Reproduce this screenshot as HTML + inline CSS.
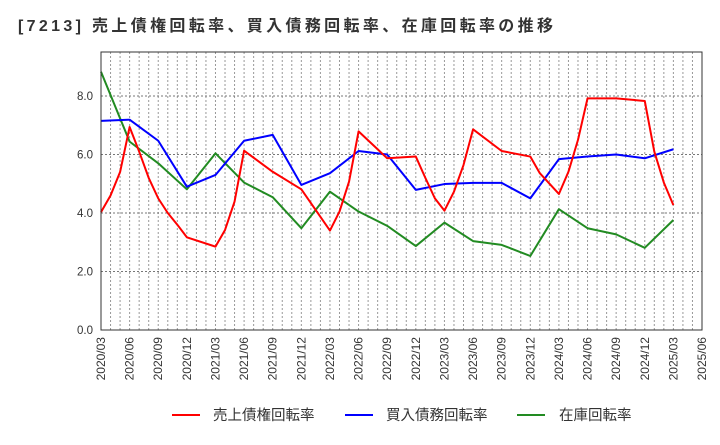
<!DOCTYPE html>
<html><head><meta charset="utf-8"><style>
body{margin:0;background:#fff;}
svg text{font-family:"Liberation Sans","Noto Sans CJK JP",sans-serif;}
</style></head><body>
<svg id="c" width="720" height="440" xmlns="http://www.w3.org/2000/svg">
<text x="18" y="31" font-size="16" font-weight="bold" fill="#333" textLength="535" lengthAdjust="spacing">[7213]  売上債権回転率、買入債務回転率、在庫回転率の推移</text>
<g id="grid"></g><g id="series"></g><g id="axes"></g>
<g>
<line x1="172" y1="415" x2="200" y2="415" stroke="#ff0000" stroke-width="2"/>
<text x="213" y="420" font-size="14.5" fill="#333">売上債権回転率</text>
<line x1="345" y1="415" x2="373" y2="415" stroke="#0000ff" stroke-width="2"/>
<text x="386" y="420" font-size="14.5" fill="#333">買入債務回転率</text>
<line x1="517" y1="415" x2="545" y2="415" stroke="#228b22" stroke-width="2"/>
<text x="559" y="420" font-size="14.5" fill="#333">在庫回転率</text>
</g>
</svg>
<script>
const xLabels=["2020/03","2020/06","2020/09","2020/12","2021/03","2021/06","2021/09","2021/12","2022/03","2022/06","2022/09","2022/12","2023/03","2023/06","2023/09","2023/12","2024/03","2024/06","2024/09","2024/12","2025/03","2025/06"];
const yTicks=[0,2,4,6,8];
const redMonths=[0,1,2,3,4,5,6,7,8,9,12,13,14,15,18,21,24,25,26,27,30,33,34,35,36,37,38,39,42,45,46,48,49,50,51,54,57,58,59,60];
const redVals=[4.03,4.6,5.4,6.94,6.1,5.2,4.5,4.0,3.6,3.17,2.85,3.42,4.39,6.13,5.41,4.81,3.40,4.05,5.07,6.79,5.87,5.93,5.2,4.5,4.08,4.73,5.64,6.86,6.12,5.93,5.36,4.65,5.41,6.50,7.92,7.92,7.83,6.1,5.04,4.27];
const blueMonths=[0,3,6,9,12,15,18,21,24,27,30,33,36,39,42,45,48,51,54,57,60];
const blueVals=[7.15,7.19,6.47,4.90,5.30,6.47,6.67,4.96,5.36,6.12,6.0,4.79,4.99,5.03,5.03,4.50,5.84,5.93,6.0,5.87,6.18];
const greenMonths=[0,3,6,9,12,15,18,21,24,27,30,33,36,39,42,45,48,51,54,57,60];
const greenVals=[8.83,6.44,5.70,4.81,6.04,5.04,4.54,3.48,4.73,4.05,3.56,2.87,3.67,3.04,2.91,2.53,4.13,3.48,3.27,2.81,3.76];
const X0=101,X1=702,Y0=330,YT=52;
const xs=m=>X0+(X1-X0)*m/63;
const ys=v=>Y0-29.25*v;
const NS="http://www.w3.org/2000/svg";
function mk(t,a,p){const e=document.createElementNS(NS,t);for(const k in a)e.setAttribute(k,a[k]);p.appendChild(e);return e;}
const grid=document.getElementById('grid'),axes=document.getElementById('axes'),ser=document.getElementById('series');
for(let m=1;m<63;m++){const l=mk('line',{x1:xs(m),x2:xs(m),y1:YT,y2:Y0,stroke:'#999','stroke-dasharray':'2,2','stroke-width':1},grid);

}
yTicks.forEach(v=>{if(v>0){const l=mk('line',{x1:X0,x2:X1,y1:ys(v),y2:ys(v),stroke:'#777','stroke-dasharray':'2,2','stroke-width':1},grid);

}
const t=mk('text',{x:X0-8,y:ys(v)+4,'text-anchor':'end','font-size':11.5,fill:'#333'},axes);t.textContent=v.toFixed(1);

});
const fr=mk('rect',{x:X0,y:YT,width:X1-X0,height:Y0-YT,fill:'none',stroke:'#333','stroke-width':1},axes);


xLabels.forEach((s,i)=>{const x=xs(i*3);const t=mk('text',{x:0,y:0,transform:`translate(${x+4},${Y0+7}) rotate(-90)`,'text-anchor':'end','font-size':12,fill:'#333'},axes);t.textContent=s;

});
function line(ms,vs,c,n){const p=mk('polyline',{points:ms.map((m,i)=>xs(m)+','+ys(vs[i])).join(' '),fill:'none',stroke:c,'stroke-width':2,'stroke-linejoin':'round'},ser);

}
line(greenMonths,greenVals,'#228b22','inventory-turnover-line');
line(blueMonths,blueVals,'#0000ff','payables-turnover-line');
line(redMonths,redVals,'#ff0000','receivables-turnover-line');
</script>
</body></html>
